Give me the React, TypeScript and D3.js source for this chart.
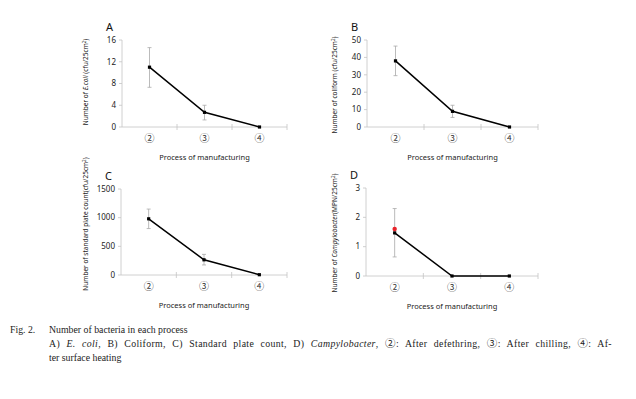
import React, { useEffect, useRef } from "react";
import * as d3 from "d3";

// process steps on the x axis
const steps = ["②", "③", "④"];

// A) E. coli
const ecoliMean = [11, 2.7, 0];
const ecoliLow = [7.3, 1.3, 0];
const ecoliHigh = [14.6, 4.0, 0];
const ecoliTicks = [0, 4, 8, 12, 16];

// B) Coliform
const coliMean = [38, 9, 0];
const coliLow = [29.5, 5.5, 0];
const coliHigh = [46.5, 12.5, 0];
const coliTicks = [0, 10, 20, 30, 40, 50];

// C) Standard plate count
const spcMean = [980, 265, 5];
const spcLow = [810, 175, 5];
const spcHigh = [1150, 360, 5];
const spcTicks = [0, 500, 1000, 1500];

// D) Campylobacter
const campyMean = [1.47, 0, 0];
const campyLow = [0.65, 0, 0];
const campyHigh = [2.3, 0, 0];
const campyRed = [1.6];
const campyTicks = [0, 1, 2, 3];

const captionLines = [
  "Number of bacteria in each process",
  "ter surface heating",
];

type PanelProps = {
  letter: string;
  x0: number;
  x1: number;
  y0: number;
  y1: number;
  max: number;
  ticks: number[];
  mean: number[];
  low: number[];
  high: number[];
  red?: number[];
  labelX: number;
  labelY: number;
  label: React.ReactNode;
};

const sans = "'Noto Sans', 'DejaVu Sans', sans-serif";
const circ = "'Noto Sans CJK JP', 'DejaVu Sans', sans-serif";

function Panel(p: PanelProps) {
  const x = d3.scaleBand<string>().domain(steps).range([p.x0, p.x1]);
  const y = d3.scaleLinear().domain([0, p.max]).range([p.y0, p.y1]);
  const cx = (i: number) => (x(steps[i]) as number) + x.bandwidth() / 2;
  const line = d3
    .line<number>()
    .x((_, i) => cx(i))
    .y((d) => y(d));
  const boundaries = [1, 2, 3].map((i) => p.x0 + i * x.bandwidth());

  return (
    <g>
      <text x={p.x0 - 16} y={p.y1 - 9} fontSize={11} fontFamily={sans} fill="#111">
        {p.letter}
      </text>
      {/* y axis */}
      <line x1={p.x0} x2={p.x0} y1={p.y1} y2={p.y0} stroke="#c4c4c4" strokeWidth={0.8} />
      {p.ticks.map((t) => (
        <g key={t}>
          <line x1={p.x0 - 3} x2={p.x0} y1={y(t)} y2={y(t)} stroke="#c4c4c4" strokeWidth={0.8} />
          <text
            x={p.x0 - 6}
            y={y(t)}
            dy="0.35em"
            textAnchor="end"
            fontSize={8}
            fontFamily={sans}
            fill="#222"
          >
            {t}
          </text>
        </g>
      ))}
      {/* x axis */}
      <line x1={p.x0} x2={p.x1} y1={p.y0} y2={p.y0} stroke="#c4c4c4" strokeWidth={0.8} />
      {boundaries.map((b) => (
        <line key={b} x1={b} x2={b} y1={p.y0 - 3} y2={p.y0 + 3} stroke="#c4c4c4" strokeWidth={0.8} />
      ))}
      {steps.map((s, i) => (
        <text
          key={s}
          x={cx(i)}
          y={p.y0 + 11}
          dy="0.35em"
          textAnchor="middle"
          fontSize={10}
          fontFamily={circ}
          fill="#333"
        >
          {s}
        </text>
      ))}
      <text
        x={(p.x0 + p.x1) / 2}
        y={p.y0 + 33}
        textAnchor="middle"
        fontSize={7.5}
        fontFamily={sans}
        fill="#222"
      >
        Process of manufacturing
      </text>
      {/* error bars */}
      {p.mean.map((m, i) =>
        p.high[i] - p.low[i] > 0.001 * p.max ? (
          <g key={i} stroke="#aaa" strokeWidth={0.8}>
            <line x1={cx(i)} x2={cx(i)} y1={y(p.low[i])} y2={y(p.high[i])} />
            <line x1={cx(i) - 2} x2={cx(i) + 2} y1={y(p.low[i])} y2={y(p.low[i])} />
            <line x1={cx(i) - 2} x2={cx(i) + 2} y1={y(p.high[i])} y2={y(p.high[i])} />
          </g>
        ) : null,
      )}
      <path d={line(p.mean) as string} fill="none" stroke="#000" strokeWidth={1.5} />
      {p.mean.map((m, i) => (
        <rect key={i} x={cx(i) - 1.6} y={y(m) - 1.6} width={3.2} height={3.2} fill="#000" />
      ))}
      {(p.red || []).map((r, i) => (
        <circle key={"r" + i} cx={cx(i)} cy={y(r)} r={2.2} fill="#e8232a" />
      ))}
      <text
        transform={`translate(${p.labelX},${p.labelY}) rotate(-90)`}
        textAnchor="middle"
        fontSize={6.5}
        fontFamily={sans}
        fill="#222"
      >
        {p.label}
      </text>
    </g>
  );
}

const sup = (s: string) => (
  <tspan fontSize={4.5} dy={-2.5}>
    {s}
  </tspan>
);

export default function App() {
  const justRef = useRef<SVGTextElement | null>(null);

  // justify the second caption line by widening the word gaps
  useEffect(() => {
    const el = justRef.current;
    if (!el) return;
    const target = 563;
    const len = el.getComputedTextLength();
    const gaps = (el.textContent || "").split(" ").length - 1;
    if (gaps > 0 && len < target) {
      el.setAttribute("word-spacing", String((target - len) / gaps));
    }
  }, []);

  return (
    <svg
      width={636}
      height={399}
      style={{ position: "absolute", left: 0, top: 0, background: "#fff" }}
    >
      <rect width={636} height={399} fill="#fff" />
      <Panel
        letter="A"
        x0={122}
        x1={287}
        y0={127}
        y1={40}
        max={16}
        ticks={ecoliTicks}
        mean={ecoliMean}
        low={ecoliLow}
        high={ecoliHigh}
        labelX={88}
        labelY={82}
        label={
          <>
            Number of <tspan fontStyle="italic">E.coli</tspan> (cfu/25cm{sup("2")}
            <tspan dy={2.5}>)</tspan>
          </>
        }
      />
      <Panel
        letter="B"
        x0={367}
        x1={538}
        y0={127}
        y1={40}
        max={50}
        ticks={coliTicks}
        mean={coliMean}
        low={coliLow}
        high={coliHigh}
        labelX={337}
        labelY={85}
        label={
          <>
            Number of coliform (cfu/25cm{sup("2")}
            <tspan dy={2.5}>)</tspan>
          </>
        }
      />
      <Panel
        letter="C"
        x0={121}
        x1={287}
        y0={275}
        y1={189}
        max={1500}
        ticks={spcTicks}
        mean={spcMean}
        low={spcLow}
        high={spcHigh}
        labelX={88}
        labelY={224}
        label={
          <>
            Number of standard plate count(cfu/25cm{sup("2")}
            <tspan dy={2.5}>)</tspan>
          </>
        }
      />
      <Panel
        letter="D"
        x0={366}
        x1={538}
        y0={276}
        y1={188}
        max={3}
        ticks={campyTicks}
        mean={campyMean}
        low={campyLow}
        high={campyHigh}
        red={campyRed}
        labelX={337}
        labelY={233}
        label={
          <>
            Number of <tspan fontStyle="italic">Campylobacter</tspan>(MPN/25cm{sup("2")}
            <tspan dy={2.5}>)</tspan>
          </>
        }
      />
      <g fontFamily="'Liberation Serif', 'DejaVu Serif', serif" fontSize={9.8} fill="#222">
        <text x={10} y={333}>Fig. 2.</text>
        <text x={49} y={333}>{captionLines[0]}</text>
        <text ref={justRef} x={49} y={347} letterSpacing={0.35}>
          A) <tspan fontStyle="italic">E. coli</tspan>, B) Coliform, C) Standard plate count, D){" "}
          <tspan fontStyle="italic">Campylobacter</tspan>,{" "}
          <tspan fontFamily={circ} fontSize={10.5}>②</tspan>: After defethring,{" "}
          <tspan fontFamily={circ} fontSize={10.5}>③</tspan>: After chilling,{" "}
          <tspan fontFamily={circ} fontSize={10.5}>④</tspan>: Af-
        </text>
        <text x={49} y={361}>{captionLines[1]}</text>
      </g>
    </svg>
  );
}
